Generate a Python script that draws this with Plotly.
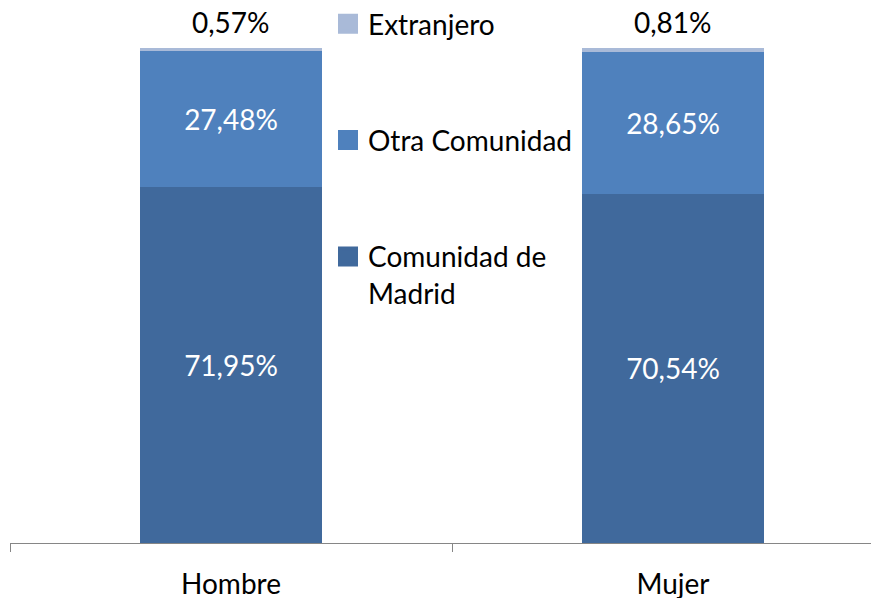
import plotly.graph_objects as go

categories = ["Hombre", "Mujer"]
madrid = [71.95, 70.54]
otra = [27.48, 28.65]
extranjero = [0.57, 0.81]
series_names = ["Comunidad de<br>Madrid", "Otra Comunidad", "Extranjero"]
colors = ["#40699C", "#4F81BD", "#A9BAD8"]

def fmt(v):
    return f"{v:.2f}".replace(".", ",") + "%"

FONT = "Lato"
FS = 28
fig = go.Figure()

series = [madrid, otra, extranjero]
for i, (vals, name, col) in enumerate(zip(series, series_names, colors)):
    inside = i < 2
    fig.add_trace(go.Bar(
        x=categories, y=vals, name=name,
        marker=dict(color=col, line=dict(width=0)),
        width=0.412,
        text=[fmt(v) for v in vals] if inside else None,
        textposition="inside" if inside else "none",
        insidetextanchor="middle",
        textfont=dict(family=FONT, size=FS, color="white"),
        constraintext="none",
        showlegend=False,
        hoverinfo="skip",
    ))

# legend entries (reverse order like reference)
for i in [2, 1, 0]:
    fig.add_trace(go.Scatter(
        x=[None], y=[None], mode="markers", name=series_names[i],
        marker=dict(symbol="square", size=16, color=colors[i],
                    line=dict(color=colors[i], width=4)),
        legendgroup=f"g{i}", showlegend=True,
    ))

totals = [a + b + c for a, b, c in zip(madrid, otra, extranjero)]
for cat, tot, v in zip(categories, totals, extranjero):
    fig.add_annotation(x=cat, y=tot, text=fmt(v), showarrow=False,
                       yanchor="middle", yshift=26,
                       font=dict(family=FONT, size=FS, color="black"))

PW = 869  # plot width
PH = 495  # plot height
fig.update_layout(
    width=871, height=590,
    margin=dict(l=2, r=0, t=40, b=55, autoexpand=False),
    plot_bgcolor="white", paper_bgcolor="white",
    barmode="stack",
    font=dict(family=FONT, size=FS, color="black"),
    legend=dict(x=(328 - 10) / PW, xanchor="left", y=1 + 49 / PH, yanchor="top",
                traceorder="grouped", tracegroupgap=77, valign="top",
                maxheight=590,
                font=dict(family=FONT, size=FS, color="black"),
                bgcolor="rgba(0,0,0,0)", itemsizing="trace"),
    xaxis=dict(range=[-0.5, -0.5 + PW / 442], showline=True, linecolor="#868686",
               linewidth=1, ticks="outside", ticklen=8, tickcolor="#868686",
               tickson="boundaries", showgrid=False, zeroline=False,
               ticklabelstandoff=16, automargin=False,
               tickfont=dict(family=FONT, size=FS, color="black")),
    yaxis=dict(range=[0, 100], visible=False, showgrid=False, zeroline=False,
               automargin=False),
)

fig.write_html("out.html")
